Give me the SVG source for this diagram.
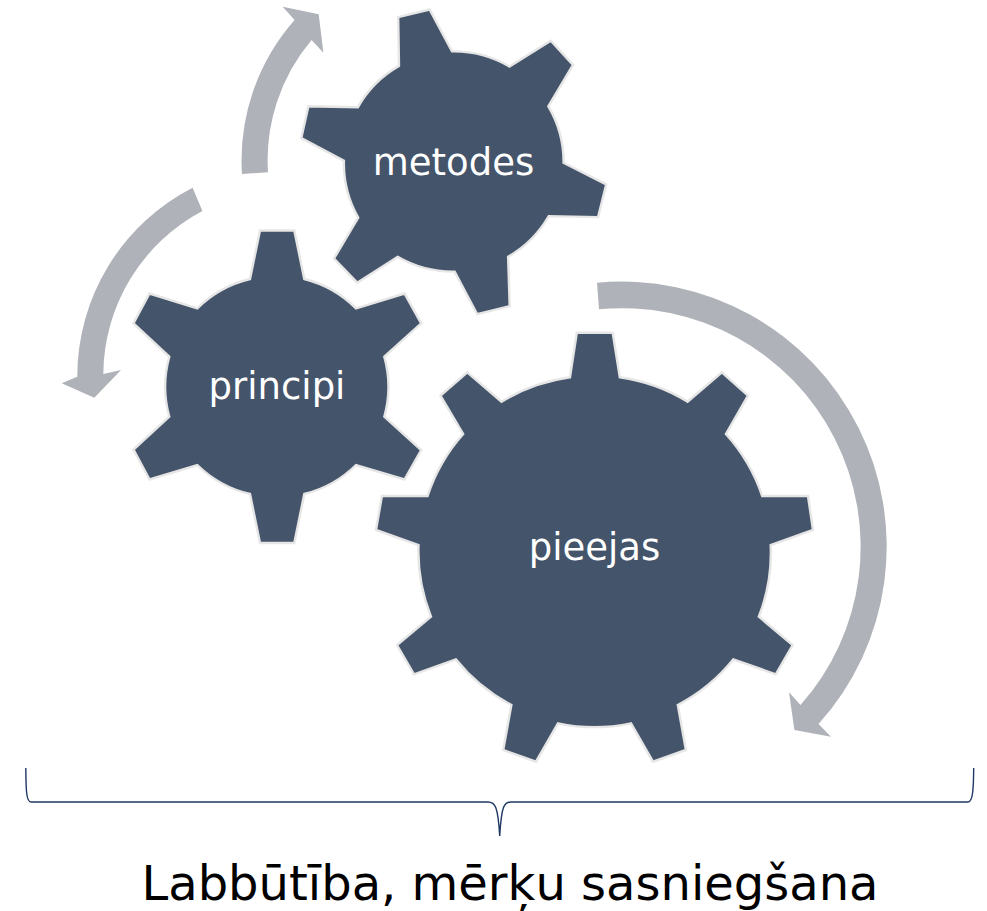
<svg xmlns="http://www.w3.org/2000/svg" width="987" height="911" viewBox="0 0 987 911">
<style>
.gear{fill:#44546A;stroke:#E7E6E6;stroke-width:2.4;stroke-linejoin:miter}
.arrow{fill:#AFB2B9;stroke:none}
.label{font-family:"DejaVu Sans",sans-serif;font-size:37px;fill:#FFFFFF;text-anchor:middle}
.brace{fill:none;stroke:#1F3864;stroke-width:1.4}
.caption{font-family:"DejaVu Sans",sans-serif;font-size:48px;fill:#000000;text-anchor:middle}
</style>
<rect width="987" height="911" fill="#FFFFFF"/>
<g id="connectors">
<path class="arrow" d="M242 174A212 212 0 0 1 294.6 20L282.7 6.7L318.7 14.3L323.4 52.7L311.6 40A186 186 0 0 0 268 172.3Z"/>
<path class="arrow" d="M192.6 187.7A212 212 0 0 0 77.3 376.7L61.7 383.3L94.3 397.7L121 370L103.3 374A186 186 0 0 1 202.4 211Z"/>
<path class="arrow" d="M597 282.7A265 265 0 0 1 818.5 724L831 736.7L794.4 730L789 692.3L800.5 705A238.5 238.5 0 0 0 599 309.3Z"/>
<path class="brace" d="M25.8 768C26 788 26 802 31 802L488 802C495 802 498 806 499.7 836C501.5 806 504 802 511 802L968 802C973 802 973.5 788 973.7 768"/>
</g>
<g id="node-metodes">
<path class="gear" d="M398.2 17.2L429.6 9.5L452 51.4A110 110 0 0 1 509.4 66.5L550.8 40.7L573 64.9L548.4 106.3A110 110 0 0 1 563.6 162.7L606.2 184.5L598.1 217.1L548.8 216.1A110 110 0 0 1 508.1 256.8L509.7 306.1L477.2 314.2L454.7 271.6A110 110 0 0 1 397.6 256.8L357.2 282.7L334 258.5L358.2 217.7A110 110 0 0 1 343.9 160.7L301.3 138.1L308.4 106.3L357.8 107.3A110 110 0 0 1 399 65.9Z"/>
<text class="label" x="453.5" y="175">metodes</text>
</g>
<g id="node-principi">
<path class="gear" d="M260 230.5L294.3 230.5L304.3 279A111.4 111.4 0 0 1 356 308.3L404.5 293.5L421.2 323.3L384.3 356.7A111.4 111.4 0 0 1 384.3 416.7L421.2 450L404.5 479.5L356 465A111.4 111.4 0 0 1 304.3 494L294.3 543L260 543L250 494A111.4 111.4 0 0 1 197.3 465L149.5 479.5L133.5 449.5L169.3 416.7A111.4 111.4 0 0 1 169.3 356.7L133.5 323.3L149.5 293.5L197.3 308.3A111.4 111.4 0 0 1 250 279Z"/>
<text class="label" x="277" y="399">principi</text>
</g>
<g id="node-pieejas">
<path class="gear" d="M576.8 332.7L612.7 332.7L619.8 377.3A176 176 0 0 1 687.6 401.7L721.9 372.3L748 395.7L725.9 434A176 176 0 0 1 762.2 496L808 496L813 530L770.7 545A176 176 0 0 1 758.8 616.7L792.7 645L775.8 674.3L733.4 659.3A176 176 0 0 1 677.8 705L685.9 750L653 761.7L631 723.3A176 176 0 0 1 558 723.3L536 761.7L503.2 750L511.4 705A176 176 0 0 1 455.8 659.3L414 674.3L397 645L431 616.7A176 176 0 0 1 418.5 545L376 530L381.9 496L427.6 496A176 176 0 0 1 463.2 434L440.5 395.7L467.3 372.3L501.5 401.7A176 176 0 0 1 570 377.3Z"/>
<text class="label" x="594.5" y="560">pieejas</text>
</g>
<text id="caption" class="caption" x="510" y="899.5">Labbūtība, mērķu sasniegšana</text>
</svg>
